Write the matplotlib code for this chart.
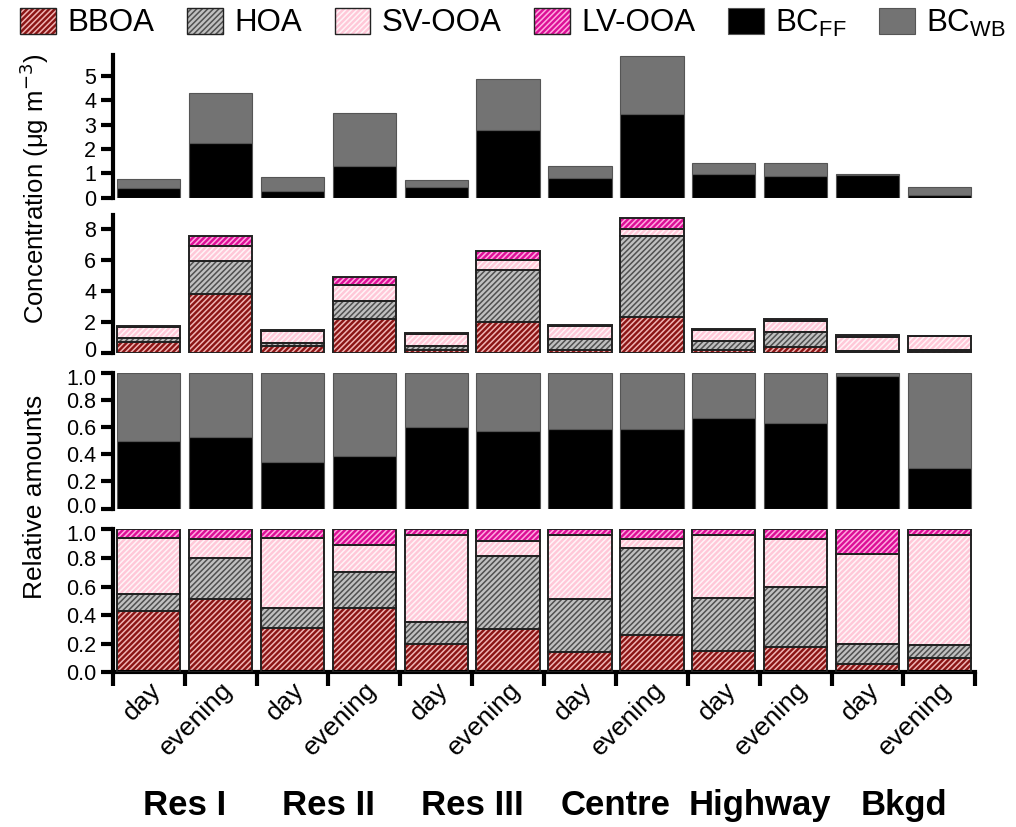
import numpy as np
import matplotlib
matplotlib.use("Agg")
import matplotlib.pyplot as plt
from matplotlib.patches import Patch
from matplotlib.legend_handler import HandlerTuple
import matplotlib.transforms as mtransforms

plt.rcParams["font.family"] = ["Liberation Sans", "DejaVu Sans"]
plt.rcParams["hatch.linewidth"] = 1.1

# ---------------------------------------------------------------------------
# Data
# ---------------------------------------------------------------------------
sites  = ["Res I", "Res II", "Res III", "Centre", "Highway", "Bkgd"]
times  = ["day", "evening"] * len(sites)

# BC concentrations (ug m-3)
bc_ff  = [0.40, 2.25, 0.27, 1.31, 0.44, 2.78, 0.80, 3.46, 0.99, 0.89, 0.95, 0.12]
bc_wb  = [0.38, 2.04, 0.58, 2.19, 0.27, 2.11, 0.51, 2.36, 0.45, 0.55, 0.02, 0.31]

# OA concentrations (ug m-3)
bboa   = [0.72, 3.80, 0.47, 2.18, 0.21, 2.00, 0.21, 2.35, 0.21, 0.37, 0.06, 0.11]
hoa    = [0.26, 2.12, 0.17, 1.20, 0.22, 3.34, 0.69, 5.21, 0.56, 0.96, 0.10, 0.10]
sv_ooa = [0.72, 0.96, 0.81, 0.98, 0.81, 0.69, 0.85, 0.43, 0.72, 0.74, 0.85, 0.88]
lv_ooa = [0.08, 0.64, 0.07, 0.56, 0.06, 0.57, 0.07, 0.71, 0.06, 0.15, 0.14, 0.04]

# relative BC
rel_ff = [0.50, 0.53, 0.34, 0.39, 0.60, 0.57, 0.59, 0.59, 0.67, 0.63, 0.98, 0.30]
rel_wb = [0.50, 0.47, 0.66, 0.61, 0.40, 0.43, 0.41, 0.41, 0.33, 0.37, 0.02, 0.70]

# relative OA
rel_bboa = [0.43, 0.51, 0.31, 0.45, 0.20, 0.30, 0.14, 0.26, 0.15, 0.18, 0.06, 0.10]
rel_hoa  = [0.12, 0.29, 0.14, 0.25, 0.15, 0.51, 0.37, 0.61, 0.37, 0.42, 0.14, 0.09]
rel_sv   = [0.39, 0.13, 0.49, 0.19, 0.61, 0.11, 0.45, 0.06, 0.44, 0.33, 0.63, 0.77]
rel_lv   = [0.06, 0.07, 0.06, 0.11, 0.04, 0.08, 0.04, 0.07, 0.04, 0.07, 0.17, 0.04]

# ---------------------------------------------------------------------------
# Styles
# ---------------------------------------------------------------------------
OA_STYLE = {
    "BBOA":   ("#8b1515", "#f0b4b4"),
    "HOA":    ("#c0c0c0", "#505050"),
    "SV-OOA": ("#ffc8d8", "#fff4f7"),
    "LV-OOA": ("#dc0f96", "#ffa8e0"),
}
C_FF = "#000000"
C_WB = "#737373"
HATCH = "//////"
W = 0.88
x = np.arange(len(times))


def hatched_stack(ax, series, names):
    bottom = np.zeros(len(x))
    for vals, name in zip(series, names):
        fc, hc = OA_STYLE[name]
        vals = np.asarray(vals, dtype=float)
        ax.bar(x, vals, W, bottom=bottom, color=fc, edgecolor=hc,
               hatch=HATCH, linewidth=0, zorder=2)
        ax.bar(x, vals, W, bottom=bottom, fill=False, edgecolor="#222222",
               linewidth=1.4, zorder=3)
        bottom += vals


def bc_stack(ax, ff, wb):
    ax.bar(x, ff, W, color=C_FF, edgecolor="#555555", linewidth=0.8, zorder=2)
    ax.bar(x, wb, W, bottom=ff, color=C_WB, edgecolor="#555555",
           linewidth=0.8, zorder=2)


def nudge(label, dy_px):
    # shift a tick label vertically so stacked panels' labels do not collide
    label.set_transform(label.get_transform()
                        + mtransforms.Affine2D().translate(0, dy_px))


fig = plt.figure(figsize=(10.16, 8.27), dpi=100)
L, R = 0.111, 0.960
ax1 = fig.add_axes([L, 0.761, R - L, 0.172])
ax2 = fig.add_axes([L, 0.573, R - L, 0.167])
ax3 = fig.add_axes([L, 0.385, R - L, 0.164])
ax4 = fig.add_axes([L, 0.187, R - L, 0.173])

bc_stack(ax1, bc_ff, bc_wb)
hatched_stack(ax2, [bboa, hoa, sv_ooa, lv_ooa], list(OA_STYLE))
bc_stack(ax3, rel_ff, rel_wb)
hatched_stack(ax4, [rel_bboa, rel_hoa, rel_sv, rel_lv], list(OA_STYLE))

ax1.set_ylim(0, 5.85)
ax1.set_yticks([0, 1, 2, 3, 4, 5])
ax2.set_ylim(0, 8.9)
ax2.set_yticks([0, 2, 4, 6, 8])
for ax in (ax3, ax4):
    ax.set_ylim(0, 1.0)
    ax.set_yticks(np.arange(0, 1.01, 0.2))
    ax.set_yticklabels([f"{v:.1f}" for v in np.arange(0, 1.01, 0.2)])

for ax in (ax1, ax2, ax3, ax4):
    ax.set_xlim(-0.5, len(x) - 0.5)
    for s in ("top", "right", "bottom"):
        ax.spines[s].set_visible(False)
    ax.spines["left"].set_linewidth(3)
    ax.tick_params(axis="y", direction="out", length=9, width=3,
                   labelsize=15.5, pad=3)
    ax.tick_params(axis="x", bottom=False, labelbottom=False)

nudge(ax2.get_yticklabels()[0], 4)
nudge(ax3.get_yticklabels()[-1], -4)
nudge(ax3.get_yticklabels()[0], 4)
nudge(ax4.get_yticklabels()[-1], -4)

# bottom axis with ticks between bars and rotated labels at bar centres
ax4.spines["bottom"].set_visible(True)
ax4.spines["bottom"].set_linewidth(3)
ax4.set_xticks(np.arange(-0.5, len(x), 1.0))
ax4.set_xticks(x, minor=True)
ax4.set_xticklabels(times, minor=True, rotation=45, ha="right",
                    va="top", rotation_mode="anchor", fontsize=19)
ax4.tick_params(axis="x", which="major", bottom=True, labelbottom=False,
                direction="out", length=10, width=3)
ax4.tick_params(axis="x", which="minor", bottom=True, labelbottom=True,
                length=0, pad=4)

trans = mtransforms.blended_transform_factory(ax4.transData, fig.transFigure)
for i, site in enumerate(sites):
    ax4.text(2 * i + 0.5, 0.026, site, transform=trans, ha="center",
             va="center", fontsize=25, fontweight="bold")

fig.text(0.034, 0.772, r"Concentration ($\mathregular{\mu}$g m$^{-3}$)",
         rotation=90, ha="center", va="center", fontsize=18.5)
fig.text(0.034, 0.399, "Relative amounts", rotation=90, ha="center",
         va="center", fontsize=19)

# legend
handles = []
for name, (fc, hc) in OA_STYLE.items():
    handles.append((Patch(facecolor=fc, edgecolor=hc, hatch=HATCH, linewidth=0),
                    Patch(fill=False, edgecolor="#222222", linewidth=1.0)))
handles.append(Patch(facecolor=C_FF, edgecolor="#555555", linewidth=0.8))
handles.append(Patch(facecolor=C_WB, edgecolor="#555555", linewidth=0.8))
labels = list(OA_STYLE) + [r"BC$_{\mathregular{FF}}$", r"BC$_{\mathregular{WB}}$"]
fig.legend(handles, labels, loc="upper center", bbox_to_anchor=(0.505, 1.025),
           ncol=6, frameon=False, fontsize=22.5, handlelength=1.15,
           handleheight=0.9, handletextpad=0.35, columnspacing=1.05,
           handler_map={tuple: HandlerTuple(ndivide=1, pad=0)})

fig.savefig("out.png", dpi=100)
